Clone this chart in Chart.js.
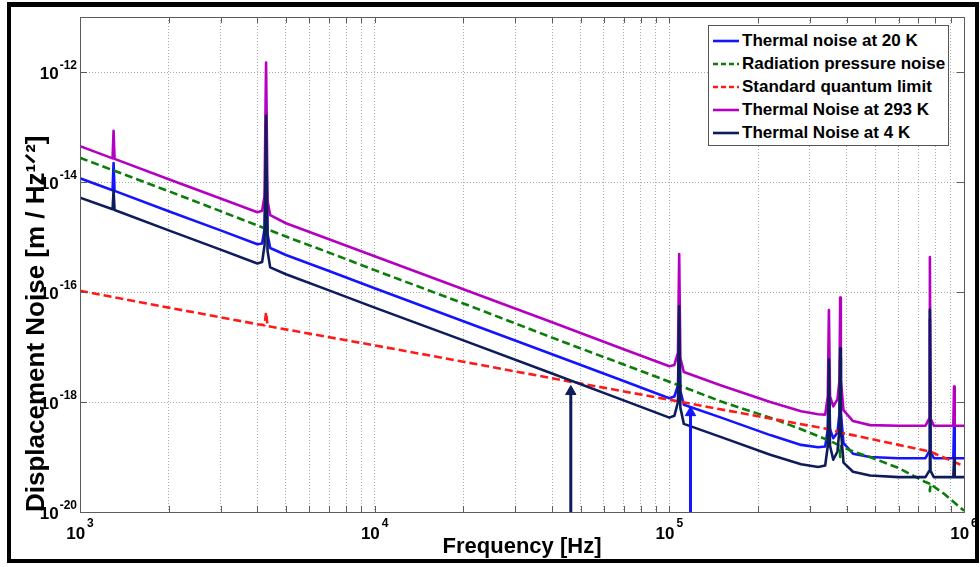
<!DOCTYPE html>
<html>
<head>
<meta charset="utf-8">
<script src="https://cdn.jsdelivr.net/npm/chart.js@4.4.1/dist/chart.umd.min.js"></script>
<style>
  html, body { margin: 0; padding: 0; background: #fff; }
  #wrap { position: relative; width: 980px; height: 567px; overflow: hidden; }
  #frame { position: absolute; left: 7px; top: 2px; width: 972px; height: 561px; box-sizing: border-box; border: 4px solid #000; border-top-width: 5px; pointer-events: none; }
  #legend { position: absolute; left: 708px; top: 25px; width: 241px; height: 121px; box-sizing: border-box; border: 1px solid #555; background: #fff; padding-top: 3px; font: bold 17px "Liberation Sans", Arial, sans-serif; color: #000; }
  #legend .row { height: 23px; display: flex; align-items: center; white-space: nowrap; }
  #legend svg { margin-left: 4px; margin-right: 3px; flex: none; }
</style>
</head>
<body>
<div id="wrap">
  <canvas id="chart" width="980" height="567"></canvas>
  <div id="legend"></div>
  <div id="frame"></div>
</div>
<script>
// Thermal noise curves share one frequency grid (Hz)
const freq = [1000, 1290, 1300, 1310, 2000, 3000, 4000, 4150, 4230, 4280, 4330, 4420, 5000, 7000,
  10000, 20000, 40000, 70000, 100000, 104000, 107000, 108000, 109000, 112000, 150000, 220000,
  280000, 320000, 338000, 345000, 348000, 351000, 360000, 372000, 378000, 380000, 382000, 390000,
  420000, 480000, 600000, 740000, 762000, 766000, 770000, 790000, 860000, 920000, 925000, 930000, 1000000];

const thermal20K = [1.17e-14, 7.1e-15, 2.2e-14, 6.9e-15, 2.95e-15, 1.32e-15, 7.4e-16, 7.6e-16, 1.4e-15, 5.0e-14, 1.12e-15, 6.3e-16, 4.7e-16, 2.4e-16,
  1.17e-16, 2.95e-17, 7.4e-18, 2.4e-18, 1.17e-18, 1.26e-18, 2.0e-18, 2.5e-17, 1.6e-18, 8.9e-19, 5.2e-19, 2.5e-19,
  1.66e-19, 1.5e-19, 1.55e-19, 3.2e-19, 4.0e-18, 3.2e-19, 2.2e-19, 2.8e-19, 6.3e-19, 6.3e-18, 6.3e-19, 1.78e-19,
  1.15e-19, 1.0e-19, 9.5e-20, 9.5e-20, 1.26e-19, 3.2e-17, 1.26e-19, 9.5e-20, 9.5e-20, 9.5e-20, 3.7e-19, 9.5e-20, 9.5e-20];

const thermal293K = [4.47e-14, 2.69e-14, 8.5e-14, 2.63e-14, 1.12e-14, 5.0e-15, 2.82e-15, 3.0e-15, 5.6e-15, 1.48e-12, 4.5e-15, 2.5e-15, 1.78e-15, 9.1e-16,
  4.47e-16, 1.12e-16, 2.82e-17, 9.1e-18, 4.47e-18, 4.7e-18, 7.9e-18, 4.9e-16, 6.3e-18, 3.5e-18, 2.0e-18, 1.0e-18,
  6.8e-19, 6.0e-19, 5.9e-19, 1.26e-18, 4.7e-17, 1.26e-18, 8.3e-19, 1.12e-18, 2.5e-18, 7.9e-17, 2.5e-18, 7.1e-19,
  4.5e-19, 3.8e-19, 3.7e-19, 3.7e-19, 5.0e-19, 4.3e-16, 5.0e-19, 3.7e-19, 3.7e-19, 3.7e-19, 1.9e-18, 3.7e-19, 3.7e-19];

const thermal4K = [5.2e-15, 3.2e-15, 6.9e-15, 3.1e-15, 1.32e-15, 5.9e-16, 3.3e-16, 3.5e-16, 7.1e-16, 1.62e-13, 5.6e-16, 2.8e-16, 2.1e-16, 1.07e-16,
  5.2e-17, 1.32e-17, 3.3e-18, 1.07e-18, 5.2e-19, 5.6e-19, 1.0e-18, 5.5e-17, 7.9e-19, 4.0e-19, 2.3e-19, 1.1e-19,
  7.4e-20, 6.6e-20, 7.0e-20, 1.6e-19, 5.9e-18, 1.6e-19, 8.9e-20, 1.26e-19, 3.2e-19, 9.5e-18, 3.2e-19, 7.9e-20,
  5.4e-20, 4.6e-20, 4.3e-20, 4.3e-20, 5.6e-20, 4.8e-17, 5.6e-20, 4.3e-20, 4.3e-20, 4.3e-20, 9.5e-20, 4.3e-20, 4.3e-20];

const radFreq = [1000, 2000, 3000, 4000, 5000, 7000, 10000, 20000, 40000, 70000, 100000, 150000, 220000, 280000,
  320000, 348000, 378000, 380000, 382000, 420000, 480000, 600000, 740000, 762000, 766000, 770000, 860000, 1000000];
const radPressure = [2.75e-14, 6.8e-15, 2.95e-15, 1.62e-15, 1.02e-15, 5.2e-16, 2.5e-16, 6.2e-17, 1.48e-17, 4.8e-18, 2.34e-18, 1.02e-18, 5.2e-19, 3.2e-19,
  2.4e-19, 2.0e-19, 1.62e-19, 1.0e-19, 1.58e-19, 1.26e-19, 1.0e-19, 6.3e-20, 3.5e-20, 3.3e-20, 2.4e-20, 3.2e-20, 2.1e-20, 1.05e-20];

const sqlFreq = [1000, 2000, 4000, 4230, 4280, 4330, 10000, 20000, 40000, 100000, 220000, 348000, 378000, 380000, 382000, 420000, 600000, 766000, 1000000];
const sqlNoise = [1.05e-16, 5.2e-17, 2.6e-17, 2.5e-17, 4.3e-17, 2.4e-17, 1.07e-17, 5.4e-18, 2.7e-18, 1.1e-18, 5.0e-19, 3.2e-19, 2.8e-19, 3.5e-19, 2.75e-19, 2.5e-19, 1.66e-19, 1.26e-19, 6.8e-20];

// arrows marking where thermal noise crosses the SQL
const arrowFreq = [46300, 118000];
const arrowTip = [1.55e-18, 6.4e-19];

const labels = ['Thermal noise at 20 K', 'Radiation pressure noise', 'Standard quantum limit', 'Thermal Noise at 293 K', 'Thermal Noise at 4 K'];
const colors = ['#1414ff', '#0b7d0b', '#ff1a1a', '#b400c0', '#0e1c5c'];

// tick values and their exponent labels (drawn as 10 with a raised exponent)
const xMajor = [1e3, 1e4, 1e5, 1e6];
const xTickExp = ['3', '4', '5', '6'];
const xMinorSteps = [2, 3, 4, 5, 6, 7, 8, 9];
const yTicks = [1e-20, 1e-18, 1e-16, 1e-14, 1e-12];
const yTickExp = ['-20', '-18', '-16', '-14', '-12'];

const xTicks = [];
xMajor.forEach((m, i) => {
    xTicks.push(m);
    if (i < xMajor.length - 1) xMinorSteps.forEach(s => xTicks.push(m * s));
});

const FONT = '"Liberation Sans", Arial, sans-serif';

function toPoints(xs, ys) {
    return xs.map((f, i) => ({ x: f, y: ys[i] }));
}

function curve(idx, xs, ys, dash, order) {
    return {
        label: labels[idx],
        data: toPoints(xs, ys),
        borderColor: colors[idx],
        borderWidth: 2.6,
        borderDash: dash,
        borderJoinStyle: 'round',
        pointRadius: 0,
        fill: false,
        tension: 0,
        order: order
    };
}

function arrow(i, color) {
    return {
        label: 'arrow' + i,
        data: [{ x: arrowFreq[i], y: 1e-20 }, { x: arrowFreq[i], y: arrowTip[i] }],
        borderColor: color,
        backgroundColor: color,
        borderWidth: 3,
        pointStyle: 'triangle',
        pointRadius: [0, 6],
        pointBorderWidth: 1,
        order: -1
    };
}

// box around the plot with inward tick marks
const axesBox = {
    id: 'axesBox',
    afterDatasetsDraw(chart) {
        const { ctx, chartArea: a, scales } = chart;
        ctx.save();
        ctx.strokeStyle = '#5c5c5c';
        ctx.lineWidth = 1;
        ctx.strokeRect(a.left + 0.5, a.top + 0.5, a.right - a.left, a.bottom - a.top);
        ctx.beginPath();
        scales.x.ticks.forEach(t => {
            const px = Math.round(scales.x.getPixelForValue(t.value)) + 0.5;
            ctx.moveTo(px, a.bottom); ctx.lineTo(px, a.bottom - 6);
            ctx.moveTo(px, a.top); ctx.lineTo(px, a.top + 6);
        });
        scales.y.ticks.forEach(t => {
            const py = Math.round(scales.y.getPixelForValue(t.value)) + 0.5;
            ctx.moveTo(a.left, py); ctx.lineTo(a.left + 7, py);
            ctx.moveTo(a.right, py); ctx.lineTo(a.right - 7, py);
        });
        ctx.stroke();
        ctx.restore();
    }
};

// power-of-ten tick labels with superscript exponents
const expLabels = {
    id: 'expLabels',
    afterDraw(chart) {
        const { ctx, chartArea: a, scales } = chart;
        const baseFont = 'bold 17px ' + FONT;
        const expFont = 'bold 12px ' + FONT;
        ctx.save();
        ctx.fillStyle = '#000';
        ctx.textBaseline = 'alphabetic';
        yTicks.forEach((v, i) => {
            const py = scales.y.getPixelForValue(v);
            ctx.font = expFont;
            const ew = ctx.measureText(yTickExp[i]).width;
            ctx.textAlign = 'right';
            ctx.fillText(yTickExp[i], a.left - 3, py - 3);
            ctx.font = baseFont;
            ctx.fillText('10', a.left - 4 - ew, py + 7);
        });
        xMajor.forEach((v, i) => {
            const px = scales.x.getPixelForValue(v);
            ctx.font = baseFont;
            const bw = ctx.measureText('10').width;
            ctx.font = expFont;
            const ew = ctx.measureText(xTickExp[i]).width;
            const left = px - (bw + ew + 2) / 2;
            ctx.textAlign = 'left';
            ctx.font = baseFont;
            ctx.fillText('10', left, a.bottom + 27);
            ctx.font = expFont;
            ctx.fillText(xTickExp[i], left + bw + 2, a.bottom + 15);
        });
        ctx.restore();
    }
};

const ctx = document.getElementById('chart').getContext('2d');
const chart = new Chart(ctx, {
    type: 'line',
    data: {
        datasets: [
            curve(0, freq, thermal20K, [], 4),
            curve(1, radFreq, radPressure, [8, 4], 3),
            curve(2, sqlFreq, sqlNoise, [8, 4], 2),
            curve(3, freq, thermal293K, [], 1),
            curve(4, freq, thermal4K, [], 0),
            arrow(0, colors[4]),
            arrow(1, colors[0])
        ]
    },
    options: {
        responsive: false,
        animation: false,
        devicePixelRatio: 1,
        layout: { padding: { left: 0, right: 16, top: 17, bottom: 0 } },
        plugins: {
            legend: { display: false },
            tooltip: { enabled: false }
        },
        scales: {
            x: {
                type: 'logarithmic',
                min: 1e3,
                max: 1e6,
                afterBuildTicks: axis => { axis.ticks = xTicks.map(v => ({ value: v })); },
                afterFit: axis => {
                    axis.height = 55;
                    axis.paddingLeft = 0;
                    axis.paddingRight = 0;
                },
                ticks: { display: false },
                grid: { color: '#aaaaaa', lineWidth: 1, drawTicks: false },
                border: { display: false, dash: [1, 2] },
                title: {
                    display: true,
                    text: 'Frequency [Hz]',
                    color: '#000',
                    font: { family: FONT, size: 22, weight: 'bold' },
                    padding: { top: 0, bottom: 7 }
                }
            },
            y: {
                type: 'logarithmic',
                min: 1e-20,
                max: 1e-11,
                afterBuildTicks: axis => { axis.ticks = yTicks.map(v => ({ value: v })); },
                afterFit: axis => {
                    axis.width = 80;
                    axis.paddingTop = 0;
                    axis.paddingBottom = 0;
                },
                ticks: { display: false },
                grid: { color: '#aaaaaa', lineWidth: 1, drawTicks: false },
                border: { display: false, dash: [1, 2] },
                title: {
                    display: true,
                    text: 'Displacement Noise [m / Hz¹ᐟ²]',
                    align: 'start',
                    color: '#000',
                    font: { family: FONT, size: 26, weight: 'bold' },
                    padding: { top: 21, bottom: 0 }
                }
            }
        }
    },
    plugins: [axesBox, expLabels]
});

// legend box in the upper right corner of the plot
const legendEl = document.getElementById('legend');
chart.data.datasets.slice(0, 5).forEach(ds => {
    const row = document.createElement('div');
    row.className = 'row';
    const dash = ds.borderDash.length ? 'stroke-dasharray="5 3"' : '';
    row.innerHTML = '<svg width="26" height="6"><line x1="0" y1="3" x2="26" y2="3" stroke="' + ds.borderColor +
        '" stroke-width="2.6" ' + dash + '/></svg><span>' + ds.label + '</span>';
    legendEl.appendChild(row);
});
</script>
</body>
</html>
